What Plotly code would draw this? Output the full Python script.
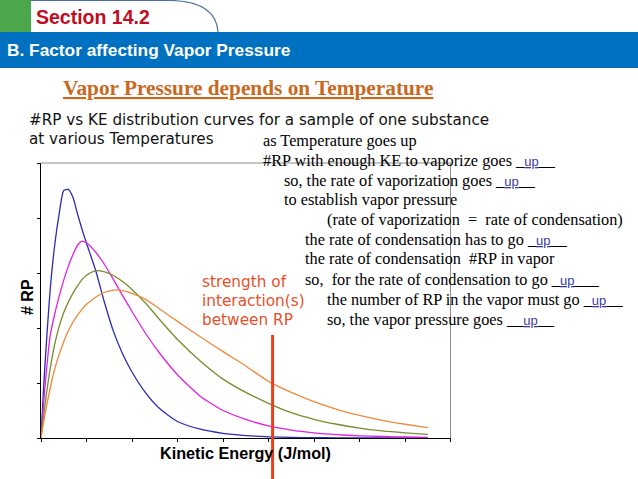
import plotly.graph_objects as go

W, H = 638, 479

# ---- data ----
ke = [0, 0.05, 0.1, 0.2, 0.3, 0.4, 0.5, 0.6, 0.7, 0.8, 0.9, 1.0, 1.2, 1.4, 1.6, 1.8,
      2.0, 2.3, 2.6, 3.0, 3.5, 4.0, 4.5, 5.0, 5.5, 6.0, 6.5, 7.0, 7.5, 8.0, 8.5]
rp_blue = [0, 0.8, 1.5, 2.68, 3.5, 4.08, 4.5, 4.52, 4.38, 4.08, 3.8, 3.54, 3.05, 2.45, 1.92, 1.52,
           1.2, 0.82, 0.54, 0.30, 0.16, 0.085, 0.045, 0.022, 0.011, 0.006, 0.004, 0.002, 0.001, 0.001, 0.0]
rp_magenta = [0, 0.55, 1.05, 1.85, 2.25, 2.58, 2.87, 3.12, 3.33, 3.5, 3.58, 3.55, 3.38, 3.15, 2.87, 2.58,
              2.3, 1.9, 1.55, 1.15, 0.76, 0.50, 0.34, 0.22, 0.145, 0.095, 0.062, 0.04, 0.027, 0.018, 0.012]
rp_olive = [0, 0.35, 0.68, 1.25, 1.7, 2.03, 2.28, 2.47, 2.63, 2.76, 2.88, 2.96, 3.04, 3.02, 2.95, 2.84,
            2.7, 2.45, 2.16, 1.79, 1.4, 1.07, 0.83, 0.63, 0.46, 0.34, 0.25, 0.18, 0.13, 0.095, 0.066]
rp_orange = [0, 0.25, 0.48, 0.9, 1.25, 1.52, 1.75, 1.95, 2.1, 2.23, 2.34, 2.43, 2.56, 2.65, 2.69, 2.68,
             2.63, 2.52, 2.35, 2.12, 1.84, 1.57, 1.31, 1.03, 0.83, 0.66, 0.52, 0.41, 0.32, 0.25, 0.19]
strength_ke = 5.09

series = [("T1", rp_blue, "#2b2bb5"), ("T2", rp_magenta, "#e021e0"),
          ("T3", rp_olive, "#7a8a2c"), ("T4", rp_orange, "#ee8a3c")]

def px(x):
    return x / W

def py(y):
    return 1 - y / H

fig = go.Figure()
for name, ys, col in series:
    fig.add_trace(go.Scatter(x=ke, y=ys, mode="lines", name=name,
                             line=dict(color=col, width=1.3, shape="spline", smoothing=0.6),
                             hoverinfo="skip"))

x0p, x1p, y0p, y1p = 41, 450.5, 438, 163

shapes = [
    dict(type="rect", xref="paper", yref="paper", x0=px(0), x1=px(31), y0=py(32), y1=py(0),
         fillcolor="#4ca64c", line=dict(width=0), layer="below"),
    dict(type="path", xref="paper", yref="paper",
         path=f"M {px(31)},{py(0.5)} L {px(172)},{py(0.5)} Q {px(216)},{py(2)} {px(218)},{py(32)}",
         line=dict(color="#4a6fa5", width=1.2)),
    dict(type="rect", xref="paper", yref="paper", x0=0, x1=1, y0=py(68), y1=py(32),
         fillcolor="#0070c0", line=dict(width=0), layer="below"),
    dict(type="line", xref="paper", yref="paper", x0=px(x0p), x1=px(x1p), y0=py(y1p), y1=py(y1p),
         line=dict(color="#8c8c8c", width=1)),
    dict(type="line", xref="paper", yref="paper", x0=px(x1p), x1=px(x1p), y0=py(y0p), y1=py(y1p),
         line=dict(color="#8c8c8c", width=1)),
    dict(type="line", xref="x", yref="paper", x0=strength_ke, x1=strength_ke, y0=0, y1=py(335),
         line=dict(color="#e8401c", width=3)),
]

ann = []

def text(x, y, s, size, color="#000", family="Liberation Serif", xanchor="left", angle=0):
    ann.append(dict(x=px(x), y=py(y), xref="paper", yref="paper", text=s, showarrow=False,
                    xanchor=xanchor, yanchor="middle", textangle=angle,
                    font=dict(size=size, color=color, family=family)))

sans = "Liberation Sans"
text(34, 17, "<b>Section 14.2</b>", 19.5, "#c00d23", sans)
text(5, 50, "<b>B. Factor affecting Vapor Pressure</b>", 17.3, "#ffffff", sans)
text(248, 88, "<b><u>Vapor Pressure depends on Temperature</u></b>", 21.3, "#c8691f",
     "Liberation Serif", xanchor="center")

comic = "DejaVu Sans"
text(27, 120, "#RP vs KE distribution curves for a sample of one substance", 15.2, "#111", comic)
text(27, 139, "at various Temperatures", 15.2, "#111", comic)

def up(n_before, n_after):
    return ("_" * n_before + "<span style='font-family:Liberation Sans;font-size:13px;color:#3a3aa8'><u>up</u></span>"
            + "_" * n_after)

ts = 16.3
text(261, 140.7, "as Temperature goes up", ts)
text(261, 160.7, "#RP with enough KE to vaporize goes " + up(1, 2), ts)
text(282, 180, "so, the rate of vaporization goes " + up(1, 2), ts)
text(282, 199.3, "to establish vapor pressure", ts)
text(325, 219.3, "(rate of vaporization  =  rate of condensation)", ts)
text(302.5, 239, "the rate of condensation has to go " + up(1, 2), ts)
text(302.5, 258.3, "the rate of condensation  #RP in vapor", ts)
text(302.5, 279, "so,  for the rate of condensation to go " + up(1, 3), ts)
text(325, 299.3, "the number of RP in the vapor must go " + up(1, 2), ts)
text(325, 319, "so, the vapor pressure goes " + up(2, 2), ts)

text(200, 281.7, "strength of", 15.3, "#e8502a", comic)
text(200, 300.7, "interaction(s)", 15.3, "#e8502a", comic)
text(200, 320, "between RP", 15.3, "#e8502a", comic)

text(27, 297, "<b># RP</b>", 16, "#000", sans, xanchor="center", angle=-90)
text(245.5, 452.7, "<b>Kinetic Energy (J/mol)</b>", 16.2, "#000", sans, xanchor="center")

fig.update_layout(
    width=W, height=H, margin=dict(l=0, r=0, t=0, b=0),
    paper_bgcolor="white", plot_bgcolor="white", showlegend=False,
    shapes=shapes, annotations=ann,
    xaxis=dict(domain=[px(x0p), px(x1p)], range=[0, 9], dtick=1, tick0=0,
               showline=True, linecolor="black", linewidth=1, ticks="outside", ticklen=3,
               tickcolor="black", showticklabels=False, showgrid=False, zeroline=False, fixedrange=True),
    yaxis=dict(domain=[py(y0p), py(y1p)], range=[0, 5], dtick=1, tick0=0,
               showline=True, linecolor="black", linewidth=1, ticks="outside", ticklen=3,
               tickcolor="black", showticklabels=False, showgrid=False, zeroline=False, fixedrange=True),
)

fig.write_html("out.html")
